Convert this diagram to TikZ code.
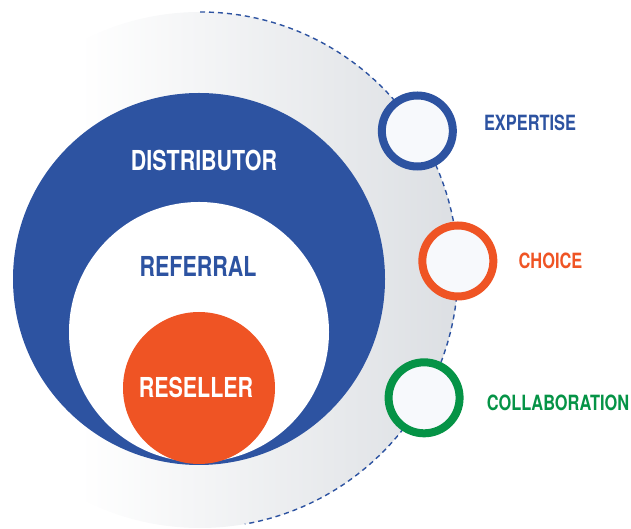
\documentclass[tikz,border=0pt]{standalone}
\usepackage{fontspec}
\newfontfamily\cnfont{TeX Gyre Heros}[FakeStretch=0.78]
\usetikzlibrary{positioning, calc}

\definecolor{partnerblue}{RGB}{45,83,161}
\definecolor{partnerorange}{RGB}{239,84,36}
\definecolor{partnergreen}{RGB}{5,147,70}
\definecolor{rimgray}{RGB}{220,223,227}
\definecolor{ringfill}{RGB}{247,249,252}

\tikzset{
  disc/.style={circle, inner sep=0pt},
  ring/.style={circle, draw, line width=8pt, fill=ringfill, minimum size=71pt, inner sep=0pt},
  bigtext/.style={font=\cnfont\bfseries\fontsize{27.5}{30}\selectfont, inner sep=0pt},
  tag/.style={font=\cnfont\bfseries\fontsize{21}{24}\selectfont, inner sep=0pt}
}

\begin{document}
\begin{tikzpicture}[x=1pt, y=1pt]
    \useasboundingbox (0,0) rectangle (631,529);

    %faded backdrop and dashed orbit
    \coordinate (hub) at (200,259);
    \begin{scope}
      \clip (hub) circle (258);
      \shade[left color=white, middle color=rimgray!45!white, right color=rimgray] (80,0) rectangle (458,529);%draws gray backdrop
    \end{scope}
    \draw[partnerblue, line width=1.4pt, dash pattern=on 5pt off 4pt] (hub) ++(90:258) arc[start angle=90, end angle=-80, radius=258];%draws orbit

    %creates the nested circles
    \node (dist) [disc, fill=partnerblue, minimum size=372pt] at (199,250) {};%draws distributor
    \node (ref) [disc, fill=white, minimum size=260pt] at (199,197) {};%draws referral
    \node (res) [disc, fill=partnerorange, minimum size=152pt] at (199,141) {};%draws reseller

    %labels the nested circles
    \node (distlbl) [bigtext, text=white] at (204,369) {DISTRIBUTOR};
    \node (reflbl) [bigtext, text=partnerblue] at (198,263) {REFERRAL};
    \node (reslbl) [bigtext, text=white] at (196,142) {RESELLER};

    %creates the rings on the orbit
    \node (exp) [ring, draw=partnerblue] at ([shift={(32.6:258)}]hub) {};%draws expertise ring
    \node (cho) [ring, draw=partnerorange] at ([shift={(2:258)}]hub) {};%draws choice ring
    \node (col) [ring, draw=partnergreen] at ([shift={(-29.7:258)}]hub) {};%draws collaboration ring

    %labels the rings
    \node (explbl) [tag, text=partnerblue, right=27pt of exp, yshift=8pt] {EXPERTISE};
    \node (cholbl) [tag, text=partnerorange, right=21pt of cho] {CHOICE};
    \node (collbl) [tag, text=partnergreen, right=23pt of col, yshift=-5pt] {COLLABORATION};
\end{tikzpicture}
\end{document}
